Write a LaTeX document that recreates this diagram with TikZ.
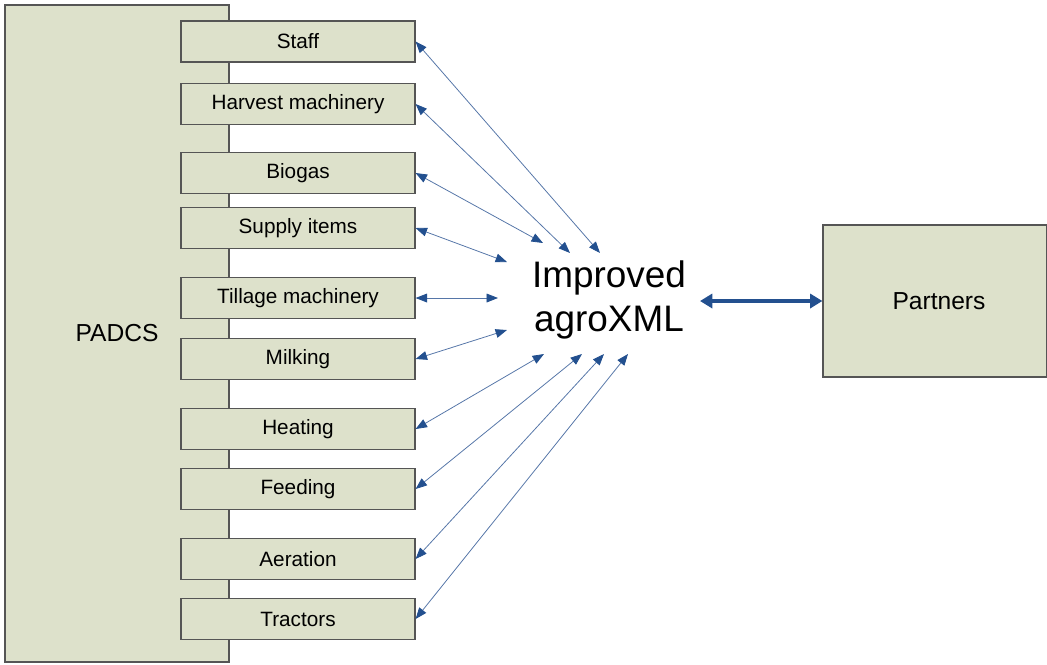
\documentclass[tikz,border=0pt]{standalone}
\usepackage{fontspec}
\setmainfont{Liberation Sans}
\usetikzlibrary{arrows.meta}
\definecolor{boxfill}{HTML}{DDE1CB}
\definecolor{boxline}{HTML}{555555}
\definecolor{tipblue}{HTML}{23508F}
\definecolor{lineblue}{HTML}{5676A8}
\tikzset{
  box/.style={draw=boxline, fill=boxfill, line width=0.7pt, inner sep=0pt},
  module/.style={box, minimum width=4.68cm, minimum height=0.82cm, font=\fontsize{11.8}{14}\selectfont},
  spoke/.style={draw=lineblue, line width=0.45pt,
    {Triangle[length=6.5pt,width=5pt,color=tipblue]}-{Triangle[length=6.5pt,width=5pt,color=tipblue]}},
  trunk/.style={draw=tipblue, line width=2.2pt,
    {Triangle[length=7pt,width=8pt]}-{Triangle[length=7pt,width=8pt]}},
}

\begin{document}
\begin{tikzpicture}[x=0.02cm, y=-0.02cm]
  \useasboundingbox (0,0) rectangle (1047,664);
  % main system on the left
  \node[box, minimum width=4.48cm, minimum height=13.14cm] (padcs) at (117,333.5) {};
  \node[font=\fontsize{14}{16}\selectfont] (padcslab) at (117,333) {PADCS};
  % modules
  \foreach \id/\y/\txt in {staff/41.5/Staff, harvest/104/Harvest machinery, biogas/173/Biogas,
      supply/228/Supply items, tillage/298/Tillage machinery, milking/359/Milking,
      heating/429/Heating, feeding/489/Feeding, aeration/559/Aeration, tractors/619/Tractors}
    {\node[module] (\id) at (298,\y) {\txt};}
  % exchange format in the middle
  \node[align=center, font=\fontsize{21}{25.5}\selectfont] (agro) at (609,300) {Improved\\agroXML};
  \node[box, minimum width=4.48cm, minimum height=3.04cm, text width=4.48cm, align=center,
    font=\fontsize{14}{16}\selectfont] (partners) at (935,301) {\hspace*{0.16cm}Partners};
  % links
  \foreach \id/\x/\y in {staff/600/253, harvest/570/253, biogas/543/243, supply/507/262,
      tillage/498/298, milking/507/330, heating/544/354, feeding/582/354,
      aeration/604/354, tractors/628/354}
    {\coordinate (\id-end) at (\x,\y);
     \draw[spoke] (\id.east) -- (\id-end);}
  \coordinate (trunk-end) at (700,301);
  \draw[trunk] (trunk-end) -- (partners.west);
\end{tikzpicture}
\end{document}
